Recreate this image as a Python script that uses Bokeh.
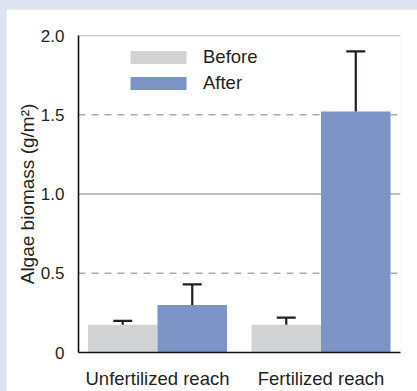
from bokeh.plotting import figure
from bokeh.layouts import column
from bokeh.models import Range1d, FixedTicker, Span, Legend, LegendItem, ColumnDataSource
from bokeh.embed import file_html
from bokeh.resources import INLINE

# ---- data ----
groups = ["Unfertilized reach", "Fertilized reach"]
before_vals = [0.175, 0.175]
before_err_top = [0.20, 0.22]
after_vals = [0.30, 1.52]
after_err_top = [0.43, 1.90]
y_ticks = [0, 0.5, 1.0, 1.5, 2.0]
y_tick_labels = ["0", "0.5", "1.0", "1.5", "2.0"]
solid_grid = [1.0, 2.0]
dashed_grid = [0.5, 1.5]

FONT = "Liberation Sans"
TXT = "#231f20"
GRAY = "#d1d2d4"
BLUE = "#7b93c5"
PAGE_BG = "#dde3ef"

bar_w = 0.425
cap_w = 0.116
gx = list(range(len(groups)))
bx = [g - bar_w / 2 for g in gx]
ax = [g + bar_w / 2 for g in gx]

p = figure(width=411, height=382, output_backend="svg", toolbar_location=None,
           x_range=Range1d(-0.483, 1.486), y_range=Range1d(0, 2.0),
           min_border_left=72, min_border_right=17, min_border_top=26, min_border_bottom=39)
p.margin = (9, 0, 0, 6)
p.outline_line_color = None
p.background_fill_color = "white"
p.border_fill_color = "white"
p.xgrid.grid_line_color = None
p.ygrid.grid_line_color = None

for v in solid_grid:
    p.add_layout(Span(location=v, dimension="width", line_color="#a7a9ac", line_width=1.3, level="underlay"))
for v in dashed_grid:
    p.add_layout(Span(location=v, dimension="width", line_color="#a7a9ac", line_width=1.3,
                      line_dash="7 6", level="underlay"))

src_b = ColumnDataSource(dict(x=bx, top=before_vals))
src_a = ColumnDataSource(dict(x=ax, top=after_vals))

rb = p.vbar(x="x", top="top", bottom=0, width=bar_w, source=src_b, fill_color=GRAY, line_color=None)
ra = p.vbar(x="x", top="top", bottom=0, width=bar_w, source=src_a, fill_color=BLUE, line_color=None)

for xs, tops, ets in [(bx, before_vals, before_err_top), (ax, after_vals, after_err_top)]:
    p.segment(x0=xs, y0=tops, x1=xs, y1=ets, line_color=TXT, line_width=2.2)
    p.segment(x0=[x - cap_w / 2 for x in xs], y0=ets, x1=[x + cap_w / 2 for x in xs], y1=ets,
              line_color=TXT, line_width=2.2)

# axes
p.xaxis.ticker = FixedTicker(ticks=gx)
p.xaxis.major_label_overrides = {i: g for i, g in enumerate(groups)}
p.yaxis.ticker = FixedTicker(ticks=y_ticks)
p.yaxis.major_label_overrides = {t: l for t, l in zip(y_ticks, y_tick_labels)}
for a in (p.xaxis[0], p.yaxis[0]):
    a.major_tick_line_color = None
    a.minor_tick_line_color = None
    a.axis_line_color = "#111111"
    a.axis_line_width = 1.6
    a.major_label_text_font = FONT
    a.major_label_text_color = TXT
p.xaxis.major_label_text_font_size = "18.5px"
p.xaxis.major_label_standoff = 9
p.yaxis.major_label_text_font_size = "17px"
p.yaxis.major_label_standoff = 8
p.yaxis.axis_label = "Algae biomass (g/m²)"
p.yaxis.axis_label_text_font = FONT
p.yaxis.axis_label_text_font_size = "19px"
p.yaxis.axis_label_text_font_style = "normal"
p.yaxis.axis_label_text_color = TXT
p.yaxis.axis_label_standoff = 0

legend = Legend(items=[LegendItem(label="Before", renderers=[rb]),
                       LegendItem(label="After", renderers=[ra])],
                location=(45, 258), glyph_width=70, glyph_height=16, label_height=16,
                spacing=4, label_standoff=10, margin=0, padding=0,
                label_text_font=FONT, label_text_font_size="18.5px", label_text_color=TXT,
                border_line_color=None, background_fill_alpha=0)
p.add_layout(legend)

layout = column(p, styles={"background-color": PAGE_BG})

open("out.html", "w").write(file_html(layout, INLINE))
